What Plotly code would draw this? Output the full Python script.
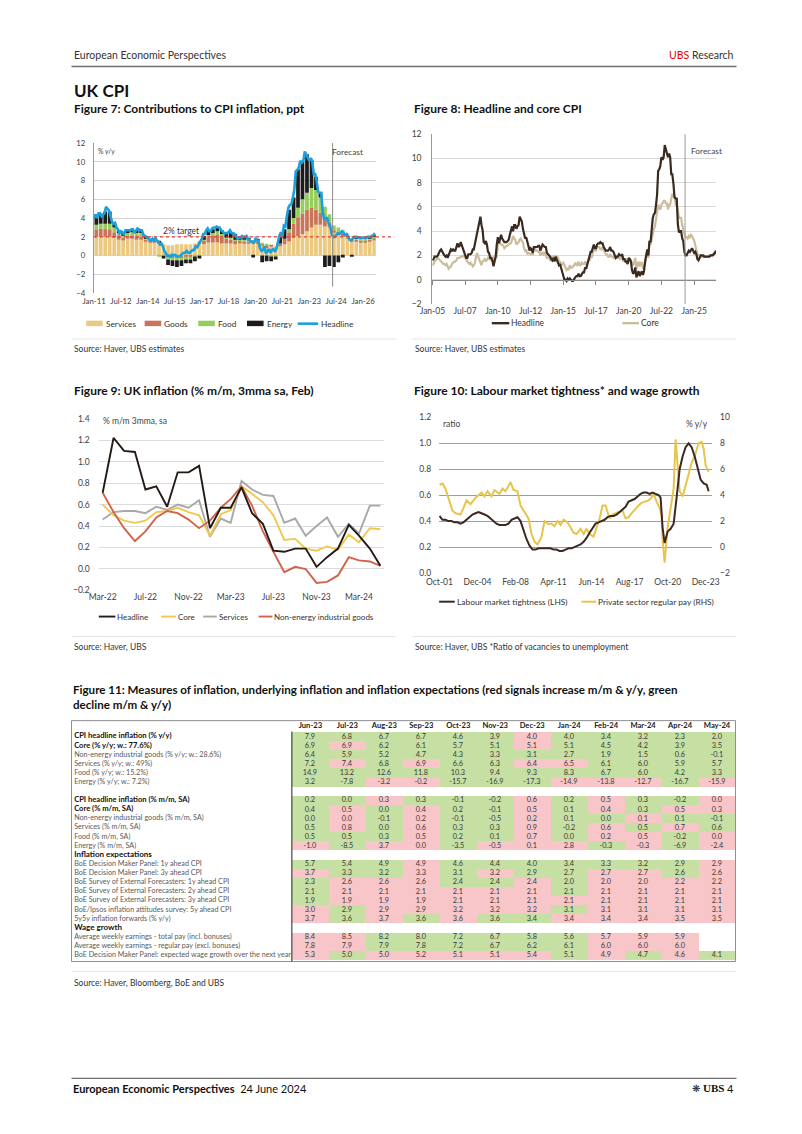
import plotly.graph_objects as go
import pandas as pd

W, H = 802, 1134
FONT = "Lato"
INK = "#333333"
TICK = "#404040"

# ---------------------------------------------------------------- data
# UK CPI % y/y, monthly Jan-05 .. Sep-26 (UBS forecast from mid-2024)
cpi_headline = [
    1.6, 1.7, 1.9, 1.9, 1.9, 2.0, 2.3, 2.4, 2.5, 2.3, 2.1, 2.0,
    1.9, 2.0, 1.8, 2.0, 2.2, 2.5, 2.4, 2.5, 2.4, 2.4, 2.7, 3.0,
    2.7, 2.8, 3.1, 2.8, 2.5, 2.4, 1.9, 1.8, 1.8, 2.1, 2.1, 2.1,
    2.2, 2.5, 2.5, 3.0, 3.3, 3.8, 4.4, 4.7, 5.2, 4.5, 4.1, 3.1,
    3.0, 3.2, 2.9, 2.3, 2.2, 1.8, 1.8, 1.6, 1.1, 1.5, 1.9, 2.9,
    3.5, 3.0, 3.4, 3.7, 3.4, 3.2, 3.1, 3.1, 3.1, 3.2, 3.3, 3.7,
    4.0, 4.4, 4.0, 4.5, 4.5, 4.2, 4.4, 4.5, 5.2, 5.0, 4.8, 4.2,
    3.6, 3.4, 3.5, 3.0, 2.8, 2.4, 2.6, 2.5, 2.2, 2.7, 2.7, 2.7,
    2.7, 2.8, 2.8, 2.4, 2.7, 2.9, 2.8, 2.7, 2.7, 2.2, 2.1, 2.0,
    1.9, 1.7, 1.6, 1.8, 1.5, 1.9, 1.6, 1.5, 1.2, 1.3, 1.0, 0.5,
    0.3, 0.0, 0.0, -0.1, 0.1, 0.0, 0.1, 0.0, -0.1, -0.1, 0.1, 0.2,
    0.3, 0.3, 0.5, 0.3, 0.3, 0.5, 0.6, 0.6, 1.0, 0.9, 1.2, 1.6,
    1.8, 2.3, 2.3, 2.7, 2.9, 2.6, 2.6, 2.9, 3.0, 3.0, 3.1, 3.0,
    3.0, 2.7, 2.5, 2.4, 2.4, 2.4, 2.5, 2.7, 2.4, 2.4, 2.3, 2.1,
    1.8, 1.9, 1.9, 2.1, 2.0, 2.0, 2.1, 1.7, 1.7, 1.5, 1.5, 1.3,
    1.8, 1.7, 1.5, 0.8, 0.5, 0.6, 1.0, 0.2, 0.5, 0.7, 0.3, 0.6,
    0.7, 0.4, 0.7, 1.5, 2.1, 2.5, 2.0, 3.2, 3.1, 4.2, 5.1, 5.4,
    5.5, 6.2, 7.0, 9.0, 9.1, 9.4, 10.1, 9.9, 10.1, 11.1, 10.7, 10.5,
    10.1, 10.4, 10.1, 8.7, 8.7, 7.9, 6.8, 6.7, 6.7, 4.6, 3.9, 4.0,
    4.0, 3.4, 3.2, 2.3, 2.0, 2.0, 2.2, 2.4, 2.3, 2.5, 2.6, 2.4,
    2.2, 2.3, 2.1, 1.7, 1.6, 1.8, 2.0, 2.0, 2.0, 1.9, 1.9, 1.9,
    1.9, 1.9, 1.9, 2.0, 2.0, 2.0, 2.1, 2.2, 2.4,
]
cpi_core = [
    1.2, 1.3, 1.5, 1.6, 1.7, 1.8, 1.7, 1.6, 1.5, 1.4, 1.3, 1.3,
    1.2, 1.3, 1.1, 0.9, 1.0, 1.1, 1.3, 1.4, 1.5, 1.5, 1.6, 1.8,
    1.8, 1.8, 1.9, 1.9, 1.9, 2.0, 1.8, 1.6, 1.5, 1.4, 1.3, 1.4,
    1.2, 1.1, 1.2, 1.4, 1.9, 2.2, 1.9, 1.6, 1.3, 1.2, 1.5, 1.6,
    1.7, 1.5, 1.6, 1.8, 1.7, 1.7, 1.6, 1.8, 1.9, 1.7, 1.8, 1.9,
    3.0, 3.1, 3.0, 2.9, 2.9, 2.8, 2.6, 2.7, 2.8, 2.8, 2.9, 3.0,
    3.0, 3.3, 3.6, 3.4, 3.3, 2.9, 3.0, 3.1, 3.3, 3.4, 3.2, 3.1,
    2.6, 2.4, 2.5, 2.1, 2.2, 2.2, 2.1, 2.1, 2.1, 2.6, 2.6, 2.4,
    2.4, 2.3, 2.4, 2.0, 2.1, 2.3, 2.1, 2.2, 2.0, 1.8, 1.8, 1.8,
    1.6, 1.7, 1.6, 2.0, 1.6, 2.0, 1.8, 1.9, 1.5, 1.5, 1.2, 1.3,
    1.4, 1.2, 1.0, 0.8, 0.9, 0.8, 1.2, 1.0, 1.0, 1.1, 1.2, 1.4,
    1.2, 1.2, 1.5, 1.2, 1.2, 1.4, 1.3, 1.3, 1.5, 1.2, 1.4, 1.6,
    1.6, 2.0, 1.8, 2.4, 2.6, 2.4, 2.4, 2.7, 2.7, 2.7, 2.5, 2.5,
    2.7, 2.4, 2.3, 2.1, 2.1, 1.9, 1.9, 2.1, 1.9, 1.9, 1.8, 1.9,
    1.9, 1.8, 1.8, 1.8, 1.7, 1.8, 1.9, 1.5, 1.7, 1.7, 1.7, 1.4,
    1.6, 1.7, 1.6, 1.4, 1.2, 1.4, 1.8, 0.9, 1.3, 1.5, 1.1, 1.4,
    1.4, 0.9, 1.1, 1.3, 2.0, 2.3, 1.8, 3.1, 2.9, 3.4, 4.0, 4.2,
    4.4, 5.2, 5.7, 6.2, 5.9, 5.8, 6.2, 6.3, 6.5, 6.5, 6.3, 6.3,
    5.8, 6.2, 6.2, 6.8, 7.1, 6.9, 6.9, 6.2, 6.1, 5.7, 5.1, 5.1,
    5.1, 4.5, 4.2, 3.9, 3.5, 3.5, 3.4, 3.6, 3.5, 3.7, 3.6, 3.4,
    3.2, 2.8, 2.4, 2.1, 2.0, 2.0, 1.9, 1.9, 1.9, 2.0, 1.9, 1.9,
    1.9, 1.9, 2.0, 2.0, 2.0, 2.1, 2.2, 2.3, 2.4,
]
CPI_START = "2005-01-01"
FIG7_START_INDEX = 72            # Jan-11
FORECAST_START = "2024-04-20"

# Figure 7: contributions to CPI inflation (ppt), quarterly Q1-11 .. Q3-26
contrib_services = [2.0, 2.0, 2.0, 2.0, 1.9, 1.7, 1.6, 1.8, 1.8, 1.7, 1.7, 1.5,
                    1.4, 1.4, 1.3, 1.2, 1.1, 1.1, 1.2, 1.2, 1.2, 1.2, 1.3, 1.3,
                    1.2, 1.4, 1.4, 1.4, 1.3, 1.3, 1.3, 1.2, 1.3, 1.3, 1.3, 1.3,
                    1.3, 1.1, 0.8, 1.0, 1.0, 1.0, 1.2, 1.5, 1.9, 2.1, 2.3, 2.6,
                    3.0, 3.3, 3.3, 3.1, 3.0, 2.5, 2.3, 2.1, 1.8, 1.5, 1.5, 1.4,
                    1.4, 1.5, 1.6]
contrib_goods = [0.8, 0.9, 0.9, 0.8, 0.6, 0.4, 0.3, 0.3, 0.3, 0.3, 0.3, 0.2,
                 0.2, 0.2, 0.1, 0.0, -0.2, -0.3, -0.3, -0.3, -0.2, -0.2, 0.0, 0.2,
                 0.4, 0.6, 0.7, 0.8, 0.7, 0.5, 0.4, 0.4, 0.3, 0.2, 0.2, 0.1,
                 0.2, 0.1, 0.3, 0.1, 0.0, 0.3, 0.6, 1.0, 1.5, 2.0, 2.2, 2.3,
                 2.1, 1.6, 1.3, 0.8, 0.5, 0.2, 0.2, 0.2, 0.1, 0.1, 0.2, 0.2,
                 0.2, 0.2, 0.3]
contrib_food = [0.5, 0.5, 0.5, 0.6, 0.5, 0.3, 0.3, 0.3, 0.4, 0.4, 0.4, 0.2,
                0.1, 0.0, -0.1, -0.1, -0.2, -0.2, -0.2, -0.2, -0.2, -0.2, -0.1, -0.1,
                0.1, 0.2, 0.3, 0.4, 0.3, 0.1, 0.2, 0.1, 0.1, 0.2, 0.2, 0.2,
                0.1, 0.1, 0.1, -0.1, -0.1, 0.0, 0.0, 0.3, 0.6, 1.0, 1.5, 1.8,
                2.1, 2.1, 1.6, 1.3, 0.9, 0.5, 0.5, 0.4, 0.3, 0.2, 0.2, 0.2,
                0.2, 0.2, 0.2]
contrib_energy = [0.8, 1.0, 1.3, 1.3, 0.5, 0.3, 0.2, 0.3, 0.3, 0.3, 0.3, 0.2,
                  0.0, 0.1, 0.1, -0.2, -0.6, -0.6, -0.7, -0.6, -0.4, -0.4, -0.5, -0.2,
                  0.4, 0.5, 0.4, 0.4, 0.4, 0.5, 0.6, 0.6, 0.2, 0.3, 0.1, -0.2,
                  0.1, -0.7, -0.6, -0.5, -0.3, 0.7, 1.0, 2.1, 2.2, 4.1, 4.0, 4.1,
                  3.0, 1.4, 0.5, -1.2, -1.1, -1.2, -0.7, -0.2, 0.0, -0.1, 0.1, 0.1,
                  0.1, 0.1, 0.1]
CONTRIB_START = "2011-01-01"
INFLATION_TARGET = 2.0

# Figure 9: % m/m 3mma sa, Mar-22 .. May-24
fig9_start = "2022-03-01"
mm_headline = [0.71, 1.22, 1.10, 1.09, 0.74, 0.77, 0.58, 0.90, 0.90, 0.96, 0.38, 0.57, 0.57, 0.76,
               0.52, 0.42, 0.17, 0.16, 0.19, 0.19, 0.02, 0.11, 0.19, 0.41, 0.31, 0.19, 0.03]
mm_core = [0.60, 0.50, 0.45, 0.43, 0.45, 0.53, 0.54, 0.57, 0.53, 0.50, 0.31, 0.51, 0.55, 0.77,
           0.70, 0.62, 0.50, 0.27, 0.28, 0.19, 0.17, 0.21, 0.18, 0.32, 0.25, 0.38, 0.37]
mm_services = [0.46, 0.53, 0.54, 0.54, 0.52, 0.58, 0.55, 0.60, 0.57, 0.64, 0.30, 0.47, 0.43, 0.82,
               0.74, 0.69, 0.68, 0.43, 0.47, 0.31, 0.40, 0.48, 0.30, 0.42, 0.33, 0.59, 0.59]
mm_neig = [0.71, 0.53, 0.38, 0.26, 0.35, 0.48, 0.54, 0.52, 0.46, 0.38, 0.45, 0.57, 0.65, 0.77,
           0.59, 0.35, 0.16, -0.03, 0.02, 0.00, -0.13, -0.12, -0.06, 0.11, 0.08, 0.07, 0.03]

# Figure 10: labour market tightness (ratio, LHS) and private regular pay (% y/y, RHS)
tight_obs = [
    ("2001-10", 0.44), ("2002-01", 0.41), ("2002-04", 0.41), ("2002-07", 0.40), ("2002-10", 0.40),
    ("2003-01", 0.39), ("2003-04", 0.39), ("2003-07", 0.38), ("2003-10", 0.39), ("2004-01", 0.41),
    ("2004-04", 0.43), ("2004-07", 0.45), ("2004-10", 0.46), ("2005-01", 0.47), ("2005-04", 0.46),
    ("2005-07", 0.45), ("2005-10", 0.44), ("2006-01", 0.42), ("2006-04", 0.40), ("2006-07", 0.38),
    ("2006-10", 0.37), ("2007-01", 0.37), ("2007-04", 0.37), ("2007-07", 0.38), ("2007-10", 0.41),
    ("2008-01", 0.42), ("2008-04", 0.43), ("2008-07", 0.40), ("2008-10", 0.33), ("2009-01", 0.26),
    ("2009-04", 0.21), ("2009-07", 0.18), ("2009-10", 0.18), ("2010-01", 0.19), ("2010-04", 0.19),
    ("2010-07", 0.19), ("2010-10", 0.19), ("2011-01", 0.19), ("2011-04", 0.18), ("2011-07", 0.18),
    ("2011-10", 0.17), ("2012-01", 0.17), ("2012-04", 0.18), ("2012-07", 0.19), ("2012-10", 0.19),
    ("2013-01", 0.20), ("2013-04", 0.21), ("2013-07", 0.22), ("2013-10", 0.24), ("2014-01", 0.27),
    ("2014-04", 0.31), ("2014-07", 0.35), ("2014-10", 0.38), ("2015-01", 0.39), ("2015-04", 0.40),
    ("2015-07", 0.41), ("2015-10", 0.43), ("2016-01", 0.44), ("2016-04", 0.44), ("2016-07", 0.45),
    ("2016-10", 0.47), ("2017-01", 0.49), ("2017-04", 0.51), ("2017-07", 0.55), ("2017-10", 0.56),
    ("2018-01", 0.57), ("2018-04", 0.59), ("2018-07", 0.61), ("2018-10", 0.62), ("2019-01", 0.62),
    ("2019-04", 0.61), ("2019-07", 0.62), ("2019-10", 0.61), ("2020-01", 0.60), ("2020-03", 0.58),
    ("2020-05", 0.35), ("2020-07", 0.23), ("2020-10", 0.32), ("2021-01", 0.34), ("2021-04", 0.38),
    ("2021-07", 0.58), ("2021-10", 0.80), ("2022-01", 0.90), ("2022-04", 0.97), ("2022-07", 1.00),
    ("2022-10", 0.97), ("2023-01", 0.90), ("2023-04", 0.80), ("2023-07", 0.72), ("2023-10", 0.69),
    ("2024-01", 0.68), ("2024-03", 0.63),
]
wage_obs = [
    ("2001-10", 4.8), ("2002-01", 4.9), ("2002-04", 4.5), ("2002-08", 3.5), ("2002-11", 2.8),
    ("2003-02", 2.6), ("2003-07", 2.5), ("2003-10", 3.0), ("2004-01", 3.6), ("2004-05", 3.3),
    ("2004-10", 3.8), ("2005-01", 4.0), ("2005-04", 4.2), ("2005-07", 3.9), ("2005-10", 4.3),
    ("2006-02", 3.9), ("2006-05", 4.4), ("2006-10", 4.1), ("2007-01", 4.5), ("2007-04", 4.3),
    ("2007-09", 5.0), ("2007-12", 4.4), ("2008-04", 4.3), ("2008-07", 3.2), ("2008-10", 2.8),
    ("2009-03", 2.2), ("2009-06", 1.0), ("2009-09", 0.4), ("2009-12", 0.2), ("2010-04", 0.8),
    ("2010-07", 2.0), ("2010-10", 1.8), ("2011-02", 1.8), ("2011-05", 1.6), ("2011-08", 2.0),
    ("2011-11", 1.7), ("2012-02", 2.1), ("2012-06", 1.9), ("2012-09", 1.5), ("2012-12", 1.1),
    ("2013-03", 1.0), ("2013-07", 1.4), ("2013-10", 1.0), ("2014-01", 1.4), ("2014-04", 1.0),
    ("2014-08", 0.8), ("2014-11", 1.5), ("2015-02", 2.2), ("2015-05", 3.2), ("2015-08", 3.2),
    ("2015-12", 2.2), ("2016-03", 2.5), ("2016-06", 2.6), ("2016-09", 2.7), ("2017-01", 2.8),
    ("2017-04", 2.2), ("2017-07", 2.3), ("2017-10", 2.6), ("2018-02", 3.0), ("2018-05", 3.2),
    ("2018-08", 3.4), ("2018-11", 3.5), ("2019-03", 3.6), ("2019-06", 3.8), ("2019-08", 4.1),
    ("2019-11", 3.5), ("2020-02", 3.0), ("2020-04", 2.4), ("2020-05", 0.5), ("2020-07", -1.2),
    ("2020-08", 0.0), ("2020-10", 1.5), ("2021-01", 3.0), ("2021-03", 4.0), ("2021-04", 4.5),
    ("2021-06", 8.3), ("2021-08", 6.5), ("2021-10", 4.3), ("2022-01", 3.9), ("2022-04", 4.8),
    ("2022-07", 5.5), ("2022-10", 6.5), ("2023-01", 7.0), ("2023-05", 8.0), ("2023-08", 8.1),
    ("2023-10", 7.6), ("2023-12", 6.3), ("2024-02", 6.0), ("2024-03", 5.8),
]

# Figure 11 table
table_months = ["Jun-23", "Jul-23", "Aug-23", "Sep-23", "Oct-23", "Nov-23",
                "Dec-23", "Jan-24", "Feb-24", "Mar-24", "Apr-24", "May-24"]
table_labels = [
    "CPI headline inflation (% y/y)", "Core (% y/y; w.: 77.6%)",
    "Non-energy industrial goods (% y/y; w.: 28.6%)", "Services (% y/y; w.: 49%)",
    "Food (% y/y; w.: 15.2%)", "Energy (% y/y; w.: 7.2%)", "",
    "CPI headline inflation (% m/m, SA)", "Core (% m/m, SA)",
    "Non-energy industrial goods (% m/m, SA)", "Services (% m/m, SA)",
    "Food (% m/m, SA)", "Energy (% m/m, SA)",
    "Inflation expectations",
    "BoE Decision Maker Panel: 1y ahead CPI", "BoE Decision Maker Panel: 3y ahead CPI",
    "BoE Survey of External Forecasters: 1y ahead CPI",
    "BoE Survey of External Forecasters: 2y ahead CPI",
    "BoE Survey of External Forecasters: 3y ahead CPI",
    "BoE/Ipsos inflation attitudes survey: 5y ahead CPI",
    "5y5y inflation forwards (% y/y)",
    "Wage growth",
    "Average weekly earnings - total pay (incl. bonuses)",
    "Average weekly earnings - regular pay (excl. bonuses)",
    "BoE Decision Maker Panel: expected wage growth over the next year",
]
table_style = ["b", "b", "n", "n", "n", "n", "n", "b", "b", "n", "n", "n", "n", "h",
               "n", "n", "n", "n", "n", "n", "n", "h", "n", "n", "n"]
table_values = [
    [7.9, 6.8, 6.7, 6.7, 4.6, 3.9, 4.0, 4.0, 3.4, 3.2, 2.3, 2.0],
    [6.9, 6.9, 6.2, 6.1, 5.7, 5.1, 5.1, 5.1, 4.5, 4.2, 3.9, 3.5],
    [6.4, 5.9, 5.2, 4.7, 4.3, 3.3, 3.1, 2.7, 1.9, 1.5, 0.6, -0.1],
    [7.2, 7.4, 6.8, 6.9, 6.6, 6.3, 6.4, 6.5, 6.1, 6.0, 5.9, 5.7],
    [14.9, 13.2, 12.6, 11.8, 10.3, 9.4, 9.3, 8.3, 6.7, 6.0, 4.2, 3.3],
    [3.2, -7.8, -3.2, -0.2, -15.7, -16.9, -17.3, -14.9, -13.8, -12.7, -16.7, -15.9],
    None,
    [0.2, 0.0, 0.3, 0.3, -0.1, -0.2, 0.6, 0.2, 0.5, 0.3, -0.2, 0.0],
    [0.4, 0.5, 0.0, 0.4, 0.2, -0.1, 0.5, 0.1, 0.4, 0.3, 0.5, 0.3],
    [0.0, 0.0, -0.1, 0.2, -0.1, -0.5, 0.2, 0.1, 0.0, 0.1, 0.1, -0.1],
    [0.5, 0.8, 0.0, 0.6, 0.3, 0.3, 0.9, -0.2, 0.6, 0.5, 0.7, 0.6],
    [0.5, 0.5, 0.3, 0.5, 0.2, 0.1, 0.7, 0.0, 0.2, 0.5, -0.2, 0.0],
    [-1.0, -8.5, 3.7, 0.0, -3.5, -0.5, 0.1, 2.8, -0.3, -0.3, -6.9, -2.4],
    None,
    [5.7, 5.4, 4.9, 4.9, 4.6, 4.4, 4.0, 3.4, 3.3, 3.2, 2.9, 2.9],
    [3.7, 3.3, 3.2, 3.3, 3.1, 3.2, 2.9, 2.7, 2.7, 2.7, 2.6, 2.6],
    [2.3, 2.6, 2.6, 2.6, 2.4, 2.4, 2.4, 2.0, 2.0, 2.0, 2.2, 2.2],
    [2.1, 2.1, 2.1, 2.1, 2.1, 2.1, 2.1, 2.1, 2.1, 2.1, 2.1, 2.1],
    [1.9, 1.9, 1.9, 1.9, 2.1, 2.1, 2.1, 2.1, 2.1, 2.1, 2.1, 2.1],
    [3.0, 2.9, 2.9, 2.9, 3.2, 3.2, 3.2, 3.1, 3.1, 3.1, 3.1, 3.1],
    [3.7, 3.6, 3.7, 3.6, 3.6, 3.6, 3.4, 3.4, 3.4, 3.4, 3.5, 3.5],
    None,
    [8.4, 8.5, 8.2, 8.0, 7.2, 6.7, 5.8, 5.6, 5.7, 5.9, 5.9, None],
    [7.8, 7.9, 7.9, 7.8, 7.2, 6.7, 6.2, 6.1, 6.0, 6.0, 6.0, None],
    [5.3, 5.0, 5.0, 5.2, 5.1, 5.1, 5.4, 5.1, 4.9, 4.7, 4.6, 4.1],
]
# G = green (decline), R = red (increase)
table_signals = [
    "GGGGGGRGGGGG", "GRGGGGRGGGGG", "GGGGGGGGGGGG", "GRGRGGRRGGGG", "GGGGGGGGGGGG",
    "GGRRGGGRRRGR", None,
    "GGRGGGRGRGGR", "GRGRGGRGRGRR", "GRGRGGRGGRGG", "GRGRGGRGRGRG", "GGGRGGRGRRGR",
    "RGRRGRRRGRGR", None,
    "GGGRGGGGGGGR", "RGGRGRGGRRGR", "GRRRGGRGRRRR", "GRRRRRRGRRRR", "GRRRRRRRRRRR",
    "RGRRRRRGRRRR", "RGRGRGGRRRRR", None,
    "RRGGGGGGRRRR", "RRGGGGGGRRRR", "RGRRRRRGRGRG",
]

# ---------------------------------------------------------------- helpers
def X(p):
    return p / W


def Y(p):
    return 1 - p / H


def dx(a, b):
    return [a / W, b / W]


def dy(top, bottom):
    return [1 - bottom / H, 1 - top / H]


annotations = []
shapes = []


def text(x, y, s, size=9, color=INK, anchor="left", family=FONT):
    annotations.append(dict(x=X(x), y=Y(y), xref="paper", yref="paper", text=s,
                            showarrow=False, xanchor=anchor, yanchor="middle",
                            font=dict(size=size, color=color, family=family)))


def pline(x0, x1, y0, y1, color, width=1, dash=None):
    shapes.append(dict(type="line", xref="paper", yref="paper", x0=X(x0), x1=X(x1),
                       y0=Y(y0), y1=Y(y1), line=dict(color=color, width=width, dash=dash)))


def prect(x0, x1, y0, y1, fill, line=None):
    shapes.append(dict(type="rect", xref="paper", yref="paper", x0=X(x0), x1=X(x1),
                       y0=Y(y1), y1=Y(y0), fillcolor=fill,
                       line=dict(width=0) if line is None else line))


# ---------------------------------------------------------------- colours
C_SERV, C_GOODS, C_FOOD, C_ENERGY, C_HEAD7 = "#ecc980", "#c8755a", "#95cd5d", "#1c1c1c", "#1aa1dc"
C_HEAD8, C_CORE8 = "#3a2a20", "#cbbd9c"
C_H9, C_C9, C_S9, C_N9 = "#231a15", "#f1c84b", "#a8a8a8", "#d2634a"
C_TIGHT, C_WAGE = "#3b2a21", "#e9c44a"
GREEN, PINK = "#c6e0a4", "#f8c6c8"

fig = go.Figure()

# ---------------------------------------------------------------- Figure 7
q_dates = pd.date_range(CONTRIB_START, periods=len(contrib_services), freq="QS") + pd.Timedelta(days=45)
bar_ms = 76 * 24 * 3600 * 1000
for name, vals, col in (("Services", contrib_services, C_SERV), ("Goods", contrib_goods, C_GOODS),
                        ("Food", contrib_food, C_FOOD), ("Energy", contrib_energy, C_ENERGY)):
    fig.add_trace(go.Bar(name=name, x=q_dates, y=vals, width=bar_ms, xaxis="x", yaxis="y",
                         marker=dict(color=col, line=dict(width=0)), hoverinfo="skip", showlegend=False))
cpi_months = pd.date_range(CPI_START, periods=len(cpi_headline), freq="MS")
fig.add_trace(go.Scatter(x=cpi_months[FIG7_START_INDEX:], y=cpi_headline[FIG7_START_INDEX:],
                         mode="lines", line=dict(color=C_HEAD7, width=2.6), xaxis="x", yaxis="y",
                         showlegend=False, hoverinfo="skip"))

# ---------------------------------------------------------------- Figure 8
fig.add_trace(go.Scatter(x=cpi_months, y=cpi_core, mode="lines", line=dict(color=C_CORE8, width=2.2),
                         xaxis="x2", yaxis="y2", showlegend=False, hoverinfo="skip"))
fig.add_trace(go.Scatter(x=cpi_months, y=cpi_headline, mode="lines", line=dict(color=C_HEAD8, width=2.2),
                         xaxis="x5", yaxis="y2", showlegend=False, hoverinfo="skip"))

# ---------------------------------------------------------------- Figure 9
m9 = pd.date_range(fig9_start, periods=len(mm_headline), freq="MS")
for vals, col in ((mm_services, C_S9), (mm_core, C_C9), (mm_neig, C_N9), (mm_headline, C_H9)):
    fig.add_trace(go.Scatter(x=m9, y=vals, mode="lines", line=dict(color=col, width=1.9),
                             xaxis="x3", yaxis="y3", showlegend=False, hoverinfo="skip"))

# ---------------------------------------------------------------- Figure 10
wd, wv = zip(*wage_obs)
td, tv = zip(*tight_obs)
fig.add_trace(go.Scatter(x=list(wd), y=list(wv), mode="lines", line=dict(color=C_WAGE, width=2),
                         xaxis="x4", yaxis="y4", showlegend=False, hoverinfo="skip"))
fig.add_trace(go.Scatter(x=list(td), y=list(tv), mode="lines", line=dict(color=C_TIGHT, width=2),
                         xaxis="x4", yaxis="y5", showlegend=False, hoverinfo="skip"))

# ---------------------------------------------------------------- Figure 11 table
z, cell_text = [], []
for vals, sig in zip(table_values, table_signals):
    if vals is None:
        z.append([None] * len(table_months))
        cell_text.append([""] * len(table_months))
    else:
        z.append([None if v is None else (1 if s == "G" else -1) for v, s in zip(vals, sig)])
        cell_text.append(["" if v is None else f"{v:.1f}" for v in vals])
rows = list(range(len(table_labels)))
fig.add_trace(go.Heatmap(x=table_months, y=rows, z=z, text=cell_text, texttemplate="%{text}",
                         textfont=dict(size=7.3, color="#3a3a3a", family=FONT),
                         colorscale=[[0, PINK], [0.5, PINK], [0.5, GREEN], [1, GREEN]],
                         zmin=-1, zmax=1, showscale=False, hoverinfo="skip",
                         xaxis="x7", yaxis="y7"))
lab_txt, lab_size, lab_col = [], [], []
for lab, st in zip(table_labels, table_style):
    if st == "b":
        lab_txt.append(f"<b>{lab}</b>"); lab_size.append(7.6); lab_col.append("#111111")
    elif st == "h":
        lab_txt.append(f"<b>{lab}</b>"); lab_size.append(8.0); lab_col.append("#111111")
    else:
        lab_txt.append(lab); lab_size.append(7.2); lab_col.append("#5a5a5a")
fig.add_trace(go.Scatter(x=[0.012] * len(rows), y=rows, mode="text", text=lab_txt,
                         textposition="middle right", cliponaxis=False,
                         textfont=dict(size=lab_size, color=lab_col, family=FONT),
                         xaxis="x6", yaxis="y6", showlegend=False, hoverinfo="skip"))

# ---------------------------------------------------------------- axes
tf = lambda s=8.5: dict(size=s, color=TICK, family=FONT)
y8_dom = dy(130, 302)
zero_pos8 = y8_dom[0] + (0 - (-2)) / 14 * (y8_dom[1] - y8_dom[0])

layout = dict(
    width=W, height=H, margin=dict(l=0, r=0, t=0, b=0), autosize=False,
    paper_bgcolor="white", plot_bgcolor="white", barmode="relative",
    hovermode=False, showlegend=False, font=dict(family=FONT, color=INK),
    # Figure 7
    xaxis=dict(domain=dx(83, 372), anchor="y", type="date", range=["2010-12-28", "2026-09-15"],
               tick0="2011-01-01", dtick="M18", tickformat="%b-%y", ticks="", showgrid=False,
               zeroline=False, showline=False, tickfont=tf(7.8), ticklabelstandoff=2),
    yaxis=dict(domain=dy(139, 291), anchor="x", range=[-4.03, 12.03], dtick=2, ticks="",
               showgrid=True, gridcolor="#d3d3d3", gridwidth=1, zeroline=False, showline=True,
               linecolor="#9a9a9a", ticklabelstandoff=6, tickfont=tf(7.8)),
    # Figure 8
    xaxis2=dict(domain=dx(430, 721), anchor="y2", type="date", range=["2004-12-28", "2026-09-01"],
                tick0="2005-01-01", dtick="M30", tickformat="%b-%y", ticks="", showgrid=False,
                zeroline=False, showline=False, tickfont=tf(8.5)),
    xaxis5=dict(overlaying="x2", anchor="free", position=zero_pos8, type="date",
                range=["2004-12-28", "2026-09-01"], tick0="2005-01-01", dtick="M30",
                showticklabels=False, ticks="outside", ticklen=4, tickcolor="#8a8a8a",
                showline=True, linecolor="#8a8a8a", showgrid=False, zeroline=False),
    yaxis2=dict(domain=y8_dom, anchor="x2", range=[-2.03, 12.03], dtick=2, ticks="",
                showgrid=True, gridcolor="#d9d9d9", zeroline=False, showline=True,
                linecolor="#9a9a9a", ticklabelstandoff=8, tickfont=tf(8.5)),
    # Figure 9
    xaxis3=dict(domain=dx(88, 380), anchor="y3", type="date", range=["2022-02-18", "2024-05-10"],
                tick0="2022-03-01", dtick="M4", tickformat="%b-%y", ticks="", showgrid=False,
                zeroline=False, showline=False, tickfont=tf(8.5)),
    yaxis3=dict(domain=dy(417, 591), anchor="x3", range=[-0.203, 1.403], dtick=0.2, tickformat=".1f",
                ticks="", showgrid=True, gridcolor="#dcdcdc", zeroline=False, showline=False,
                ticklabelstandoff=8, tickfont=tf(8.5)),
    # Figure 10
    xaxis4=dict(domain=dx(437, 717), anchor="y4", type="date", range=["2001-09-20", "2024-06-15"],
                tick0="2001-10-01", dtick="M38", tickformat="%b-%y", ticks="", showgrid=False,
                zeroline=False, showline=False, tickfont=tf(8.5), ticklabelstandoff=3),
    yaxis4=dict(domain=dy(416, 573), anchor="x4", side="right", range=[-2, 10], dtick=2, ticks="",
                showgrid=False, zeroline=False, showline=False, ticklabelstandoff=7, tickfont=tf(8.5)),
    yaxis5=dict(overlaying="y4", anchor="x4", side="left", range=[0, 1.2], dtick=0.2,
                tickformat=".1f", ticks="", showgrid=True, gridcolor="#9d9d9d", gridwidth=1.3,
                zeroline=False, showline=False, ticklabelstandoff=7, tickfont=tf(8.5)),
    # Table
    xaxis6=dict(domain=dx(60, 286), anchor="y6", range=[0, 1], visible=False),
    yaxis6=dict(domain=dy(733.4, 963.4), anchor="x6", range=[len(rows) - 0.5, -0.5], visible=False),
    xaxis7=dict(domain=dx(286, 741), anchor="y7", type="category", side="top", ticks="",
                showgrid=False, zeroline=False, showline=False, tickvals=table_months,
                ticktext=[f"<b>{m}</b>" for m in table_months], ticklabelstandoff=1,
                tickfont=dict(size=7.6, color="#222222", family=FONT)),
    yaxis7=dict(domain=dy(733.4, 963.4), anchor="x7", range=[len(rows) - 0.5, -0.5], visible=False),
)

# ---------------------------------------------------------------- chart decorations
shapes.append(dict(type="line", xref="x", yref="y", x0=FORECAST_START, x1=FORECAST_START,
                   y0=-3.3, y1=12, line=dict(color="#8c8c8c", width=1)))
shapes.append(dict(type="line", xref="x2", yref="y2", x0=FORECAST_START, x1=FORECAST_START,
                   y0=-2, y1=12, line=dict(color="#9a9a9a", width=1)))
shapes.append(dict(type="line", xref="paper", yref="y", x0=X(83), x1=X(391),
                   y0=INFLATION_TARGET, y1=INFLATION_TARGET,
                   line=dict(color="#e0403a", width=1.2, dash="dot")))
text(152, 228, "2% target", size=8.5, color="#333")
text(85, 147, "% y/y", size=6.8, color="#444")
text(325, 148, "Forecast", size=8.3, color="#444")
text(693, 147, "Forecast", size=8.3, color="#444")
text(90, 420, "% m/m 3mma, sa", size=8.5, color="#444")
text(439, 423, "ratio", size=8.5, color="#444")
text(715, 423, "% y/y", size=8.5, color="#444", anchor="right")

# legends
for x0, col, lab in ((75, C_SERV, "Services"), (135, C_GOODS, "Goods"),
                     (190, C_FOOD, "Food"), (240, C_ENERGY, "Energy")):
    prect(x0, x0 + 17, 318.5, 324, col)
    text(x0 + 18, 321.5, lab, size=8.3, color="#333")
pline(292, 313, 321.5, 321.5, C_HEAD7, width=2.6)
text(314, 321.5, "Headline", size=8.3, color="#333")

pline(491, 509, 321, 321, C_HEAD8, width=2.4)
text(509, 321, "Headline", size=8.5, color="#333")
pline(625, 642, 321, 321, C_CORE8, width=2.4)
text(642, 321, "Core", size=8.5, color="#333")

for x0, x1, col, lab in ((88, 105, C_H9, "Headline"), (152, 167, C_C9, "Core"),
                         (195, 209, C_S9, "Services"), (252, 266, C_N9, "Non-energy industrial goods")):
    pline(x0, x1, 617, 617, col, width=1.9)
    text(x1, 617, lab, size=8, color="#333")

pline(437, 453, 602, 602, C_TIGHT, width=2)
text(453, 602, "Labour market tightness (LHS)", size=8.4, color="#333")
pline(583, 598, 602, 602, C_WAGE, width=2)
text(598, 602, "Private sector regular pay (RHS)", size=8.4, color="#333")

# ---------------------------------------------------------------- page furniture
text(61, 50, "European Economic Perspectives", size=10.5, color="#333")
text(742, 50, "<span style='color:#e60000'>UBS</span> Research", size=10.5, color="#333", anchor="right")
pline(60, 742, 62, 62, "#6e6e6e", width=1.4)
text(60, 86, "<b>UK CPI</b>", size=17, color="#111")
text(60, 104, "<b>Figure 7: Contributions to CPI inflation, ppt</b>", size=12, color="#111")
text(409, 104, "<b>Figure 8: Headline and core CPI</b>", size=12, color="#111")
text(60, 389, "<b>Figure 9: UK inflation (% m/m, 3mma sa, Feb)</b>", size=12, color="#111")
text(409, 389, "<b>Figure 10: Labour market tightness* and wage growth</b>", size=12, color="#111")
text(59, 691, "<b>Figure 11: Measures of inflation, underlying inflation and inflation expectations "
              "(red signals increase m/m &amp; y/y, green</b>", size=11.6, color="#111")
text(59, 706, "<b>decline m/m &amp; y/y)</b>", size=11.6, color="#111")

for yy in (337, 637):
    pline(60, 393, yy, yy, "#e6e6e6", width=1)
    pline(409, 742, yy, yy, "#e6e6e6", width=1)
pline(60, 742, 975, 975, "#e6e6e6", width=1)
text(61, 347, "Source: Haver, UBS estimates", size=8.5, color="#333")
text(410, 347, "Source: Haver, UBS estimates", size=8.5, color="#333")
text(61, 648, "Source: Haver, UBS", size=8.5, color="#333")
text(410, 648, "Source: Haver, UBS *Ratio of vacancies to unemployment", size=8.5, color="#333")
text(61, 987, "Source: Haver, Bloomberg, BoE and UBS", size=8.5, color="#333")

# table frame
shapes.append(dict(type="rect", xref="paper", yref="paper", x0=X(60), x1=X(741), y0=Y(965), y1=Y(722),
                   line=dict(color="#8f8f8f", width=1), fillcolor="rgba(0,0,0,0)", layer="above"))
pline(286, 286, 733, 965, "#222222", width=1)

# footer
pline(60, 742, 1083, 1083, "#6e6e6e", width=1.2)
text(59, 1093, "<b>European Economic Perspectives</b>  24 June 2024", size=11, color="#111")
text(707, 1093, "\u274b", size=10, color="#222", family="DejaVu Sans", anchor="right")
text(731, 1093, "<b>UBS</b>", size=11, color="#111", family="Liberation Serif", anchor="right")
text(742, 1093, "4", size=11, color="#111", anchor="right")

layout["annotations"] = annotations
layout["shapes"] = shapes
fig.update_layout(**layout)
fig.write_html(
    "out.html",
    post_script="document.body.style.margin='0';document.body.style.padding='0';"
                "document.documentElement.style.overflow='hidden';",
)
